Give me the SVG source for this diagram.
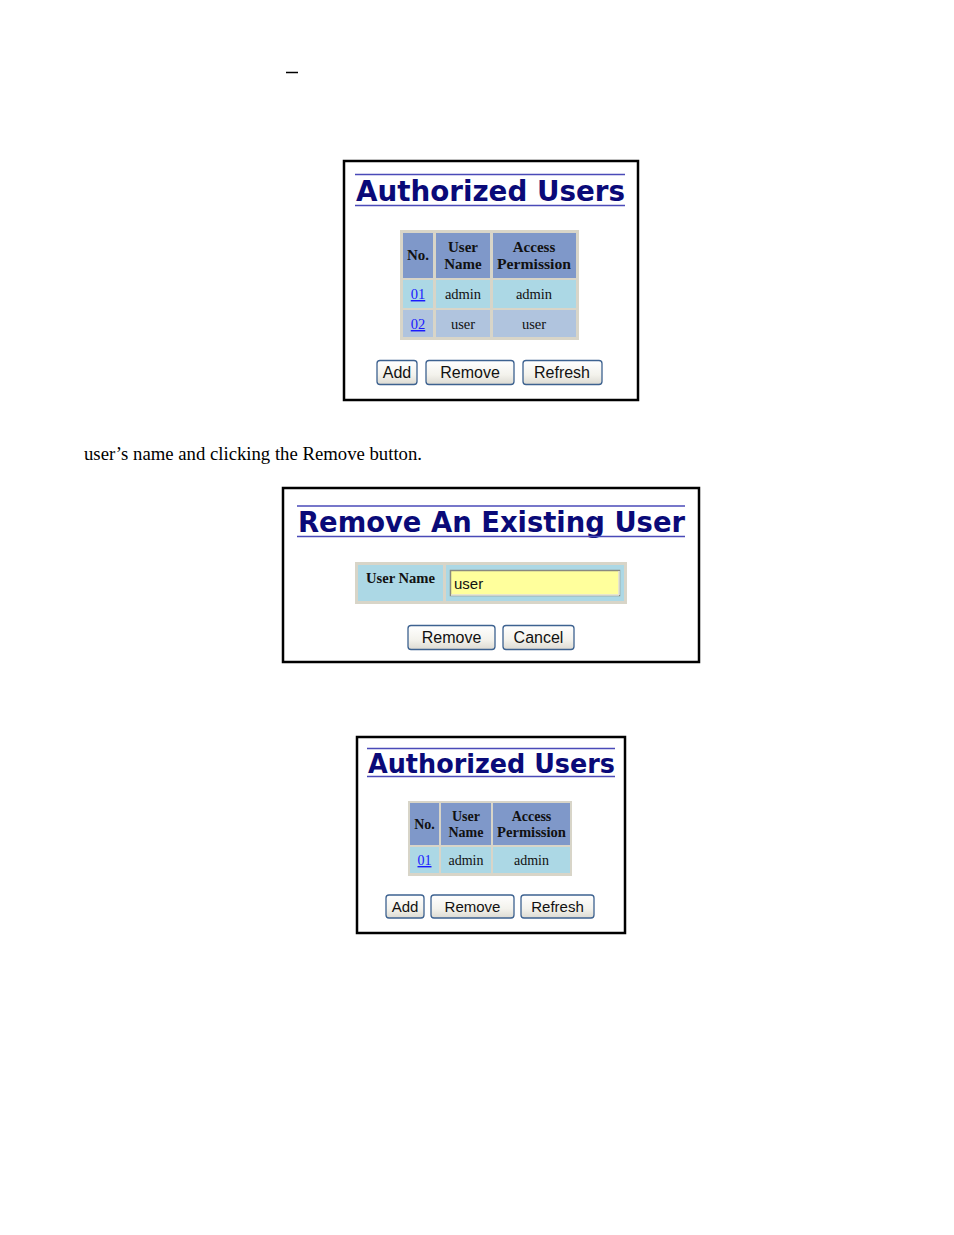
<svg xmlns="http://www.w3.org/2000/svg" width="954" height="1235" viewBox="0 0 954 1235">
<defs>
<linearGradient id="btn" x1="0" y1="0" x2="0" y2="1">
<stop offset="0" stop-color="#ffffff"/>
<stop offset="0.6" stop-color="#f3f2ec"/>
<stop offset="1" stop-color="#dcdad2"/>
</linearGradient>
</defs>
<style>
.frame{fill:#fff;stroke:#000;stroke-width:2.5}
.title{font-family:"DejaVu Sans","Verdana",sans-serif;font-weight:bold;fill:#0a0a78}
.rule{stroke:#4a4ab8;stroke-width:1.5}
.tbl{fill:#d8d5c8}
.hdr{fill:#7f98c9}
.r1{fill:#acd8e5}
.r2{fill:#b0c4de}
.th{font-family:"Liberation Serif","Times New Roman",serif;font-weight:bold;fill:#111;text-anchor:middle}
.td{font-family:"Liberation Serif","Times New Roman",serif;fill:#111;text-anchor:middle}
.lnk{font-family:"Liberation Serif","Times New Roman",serif;fill:#1a1aff;text-anchor:middle;text-decoration:underline}
.btn{fill:url(#btn);stroke:#3d6290;stroke-width:1.3}
.bt{font-family:"Liberation Sans",Arial,sans-serif;font-size:16px;fill:#111;text-anchor:middle}
.bt3{font-family:"Liberation Sans",Arial,sans-serif;font-size:15px;fill:#111;text-anchor:middle}
.body{font-family:"Liberation Serif","Times New Roman",serif;font-size:18px;fill:#000}
</style>
<rect width="954" height="1235" fill="#fff"/>
<line x1="286" y1="72.5" x2="298" y2="72.5" stroke="#000" stroke-width="1.5"/>

<g id="panel1">
<rect class="frame" x="344" y="161" width="294" height="239"/>
<line class="rule" x1="355" y1="174.5" x2="625" y2="174.5"/>
<text class="title" x="356" y="201" font-size="29" textLength="269" lengthAdjust="spacingAndGlyphs">Authorized Users</text>
<line class="rule" x1="355" y1="205.5" x2="625" y2="205.5"/>
<rect class="tbl" x="400" y="230" width="179" height="110"/>
<rect class="hdr" x="403" y="233" width="30" height="45"/>
<rect class="hdr" x="436" y="233" width="54" height="45"/>
<rect class="hdr" x="493" y="233" width="83" height="45"/>
<rect class="r1" x="403" y="280" width="30" height="28"/>
<rect class="r1" x="436" y="280" width="54" height="28"/>
<rect class="r1" x="493" y="280" width="83" height="28"/>
<rect class="r2" x="403" y="310" width="30" height="27"/>
<rect class="r2" x="436" y="310" width="54" height="27"/>
<rect class="r2" x="493" y="310" width="83" height="27"/>
<text class="th" x="418" y="260" font-size="15">No.</text>
<text class="th" x="463" y="252" font-size="15">User</text>
<text class="th" x="463" y="269" font-size="15">Name</text>
<text class="th" x="534" y="252" font-size="15">Access</text>
<text class="th" x="534" y="269" font-size="15" textLength="74" lengthAdjust="spacingAndGlyphs">Permission</text>
<text class="lnk" x="418" y="299" font-size="14.5">01</text>
<text class="td" x="463" y="299" font-size="14.5">admin</text>
<text class="td" x="534" y="299" font-size="14.5">admin</text>
<text class="lnk" x="418" y="329" font-size="14.5">02</text>
<text class="td" x="463" y="329" font-size="14.5">user</text>
<text class="td" x="534" y="329" font-size="14.5">user</text>
<rect class="btn" x="377" y="360.5" width="40" height="24" rx="3"/>
<text class="bt" x="397" y="378">Add</text>
<rect class="btn" x="426" y="360.5" width="88" height="24" rx="3"/>
<text class="bt" x="470" y="378">Remove</text>
<rect class="btn" x="523" y="360.5" width="79" height="24" rx="3"/>
<text class="bt" x="562" y="378">Refresh</text>
</g>

<text class="body" x="84" y="460" textLength="338" lengthAdjust="spacingAndGlyphs">user’s name and clicking the Remove button.</text>

<g id="panel2">
<rect class="frame" x="283" y="488" width="416" height="174"/>
<line class="rule" x1="297" y1="506" x2="685" y2="506"/>
<text class="title" x="298" y="532" font-size="29" textLength="387" lengthAdjust="spacingAndGlyphs">Remove An Existing User</text>
<line class="rule" x1="297" y1="536.5" x2="685" y2="536.5"/>
<rect class="tbl" x="355" y="562" width="272" height="42"/>
<rect class="r1" x="358" y="565" width="85" height="36"/>
<rect class="r1" x="446" y="565" width="178" height="36"/>
<text class="th" x="400.5" y="583" font-size="14.5" textLength="69" lengthAdjust="spacingAndGlyphs">User Name</text>
<rect x="450.5" y="570.5" width="169" height="25" fill="#ffff9c" stroke="#8a8a80" stroke-width="1.5"/>
<line x1="451" y1="595" x2="619" y2="595" stroke="#e8e8e0" stroke-width="1.5"/>
<line x1="619" y1="571" x2="619" y2="595" stroke="#e8e8e0" stroke-width="1.5"/>
<text x="454" y="589" font-family="Liberation Sans, Arial, sans-serif" font-size="15" fill="#111">user</text>
<rect class="btn" x="408" y="625.5" width="87" height="24" rx="3"/>
<text class="bt" x="451.5" y="643">Remove</text>
<rect class="btn" x="503" y="625.5" width="71" height="24" rx="3"/>
<text class="bt" x="538.5" y="643">Cancel</text>
</g>

<g id="panel3">
<rect class="frame" x="357" y="737" width="268" height="196"/>
<line class="rule" x1="367" y1="748.5" x2="615" y2="748.5"/>
<text class="title" x="368" y="773" font-size="27" textLength="247" lengthAdjust="spacingAndGlyphs">Authorized Users</text>
<line class="rule" x1="367" y1="776.5" x2="615" y2="776.5"/>
<rect class="tbl" x="408" y="801" width="164" height="75"/>
<rect class="hdr" x="410" y="803" width="29" height="42"/>
<rect class="hdr" x="441" y="803" width="50" height="42"/>
<rect class="hdr" x="493" y="803" width="77" height="42"/>
<rect class="r1" x="410" y="847" width="29" height="26"/>
<rect class="r1" x="441" y="847" width="50" height="26"/>
<rect class="r1" x="493" y="847" width="77" height="26"/>
<text class="th" x="424.5" y="829" font-size="14">No.</text>
<text class="th" x="466" y="821" font-size="14">User</text>
<text class="th" x="466" y="837" font-size="14">Name</text>
<text class="th" x="531.5" y="821" font-size="14">Access</text>
<text class="th" x="531.5" y="837" font-size="14" textLength="69" lengthAdjust="spacingAndGlyphs">Permission</text>
<text class="lnk" x="424.5" y="865" font-size="14">01</text>
<text class="td" x="466" y="865" font-size="14">admin</text>
<text class="td" x="531.5" y="865" font-size="14">admin</text>
<rect class="btn" x="386" y="895" width="38" height="23" rx="3"/>
<text class="bt3" x="405" y="912">Add</text>
<rect class="btn" x="431" y="895" width="83" height="23" rx="3"/>
<text class="bt3" x="472.5" y="912">Remove</text>
<rect class="btn" x="521" y="895" width="73" height="23" rx="3"/>
<text class="bt3" x="557.5" y="912">Refresh</text>
</g>
</svg>
